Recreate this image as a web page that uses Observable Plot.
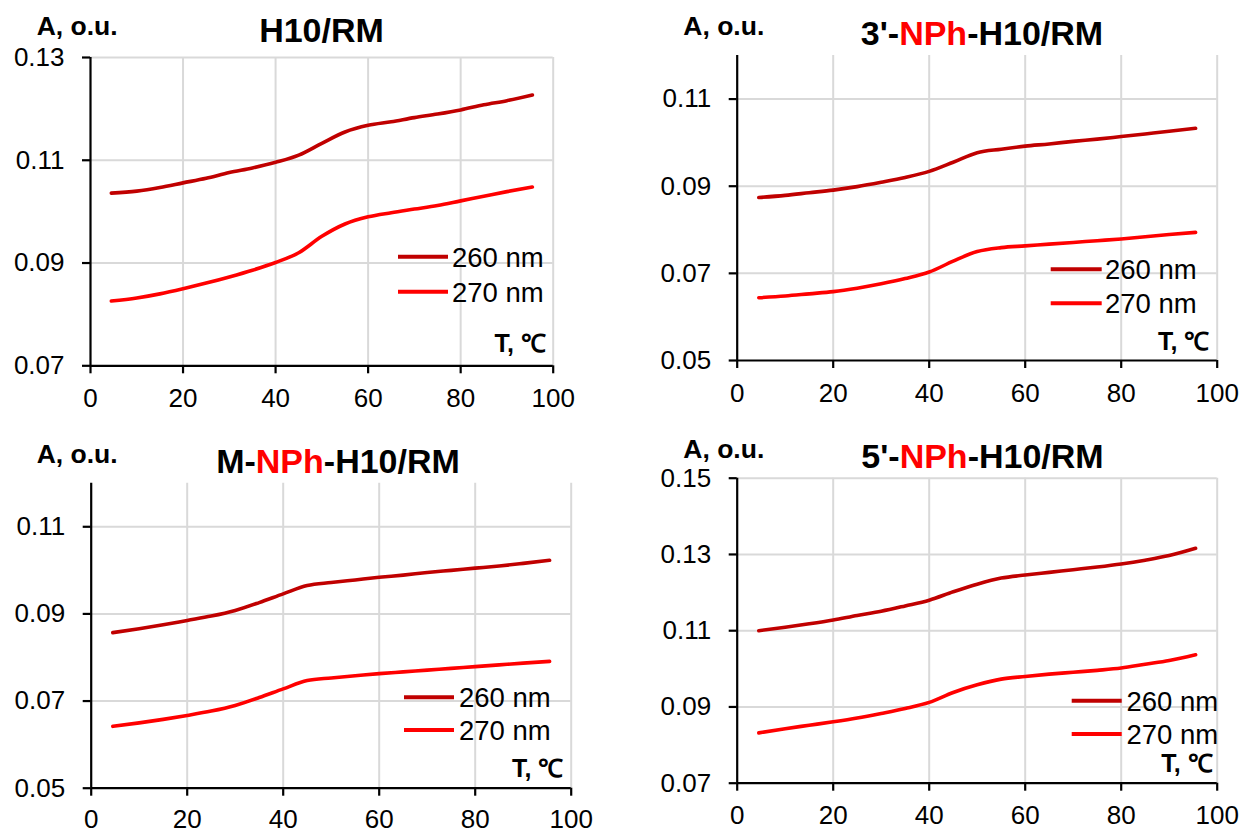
<!DOCTYPE html>
<html><head><meta charset="utf-8">
<script src="https://cdn.jsdelivr.net/npm/d3@7"></script>
<script src="https://cdn.jsdelivr.net/npm/@observablehq/plot@0.6"></script>
<style>
body{margin:0;background:#fff;font-family:"Liberation Sans",Arial,sans-serif}
#root{position:relative;width:1242px;height:834px;overflow:hidden;background:#fff}
.panel{position:absolute}
#overlay{position:absolute;left:0;top:0;pointer-events:none}
</style></head>
<body><div id="root"></div>
<script>
// ---- data ----
const seriesNames = ["260 nm", "270 nm"];
const colors = ["#C00000", "#FF0000"];
const titles = [["H10/RM"], ["3'-", "NPh", "-H10/RM"], ["M-", "NPh", "-H10/RM"], ["5'-", "NPh", "-H10/RM"]];
const xTicks = [0, 20, 40, 60, 80, 100];

const temps = [4.5, 10, 15, 20, 25, 30, 35, 40, 45, 50, 55, 60, 65, 70, 75, 80, 85, 90, 95.5];

const h10_260 = [0.1036,0.1040,0.1047,0.1056,0.1065,0.1076,0.1085,0.1096,0.1110,0.1133,0.1155,0.1168,0.1175,0.1183,0.1190,0.1198,0.1208,0.1216,0.1227];
const h10_270 = [0.0826,0.0832,0.0840,0.0850,0.0861,0.0873,0.0886,0.0901,0.0920,0.0952,0.0976,0.0990,0.0998,0.1005,0.1012,0.1021,0.1030,0.1039,0.1048];

const n3_260 = [0.0874,0.0879,0.0885,0.0891,0.0899,0.0909,0.0920,0.0934,0.0955,0.0977,0.0985,0.0992,0.0997,0.1003,0.1008,0.1014,0.1020,0.1026,0.1033];
const n3_270 = [0.0644,0.0648,0.0653,0.0658,0.0666,0.0676,0.0688,0.0703,0.0728,0.0750,0.0759,0.0763,0.0767,0.0771,0.0775,0.0779,0.0784,0.0789,0.0794];

const m_260 = [0.0857,0.0866,0.0875,0.0885,0.0895,0.0908,0.0926,0.0946,0.0965,0.0972,0.0978,0.0984,0.0989,0.0995,0.1000,0.1005,0.1010,0.1016,0.1023];
const m_270 = [0.0642,0.0650,0.0658,0.0667,0.0677,0.0690,0.0708,0.0728,0.0747,0.0753,0.0758,0.0763,0.0767,0.0771,0.0775,0.0779,0.0783,0.0787,0.0791];

const n5_260 = [0.1100,0.1109,0.1118,0.1128,0.1140,0.1151,0.1165,0.1180,0.1202,0.1222,0.1238,0.1246,0.1253,0.1260,0.1267,0.1275,0.1285,0.1297,0.1316];
const n5_270 = [0.0832,0.0843,0.0852,0.0861,0.0871,0.0883,0.0896,0.0912,0.0938,0.0958,0.0973,0.0980,0.0986,0.0991,0.0996,0.1002,0.1012,0.1022,0.1037];

const yTicks1 = [0.07, 0.09, 0.11, 0.13];
const yTicks2 = [0.05, 0.07, 0.09, 0.11];
const yTicks3 = [0.05, 0.07, 0.09, 0.11];
const yTicks4 = [0.07, 0.09, 0.11, 0.13, 0.15];
const yDomains = [[0.07, 0.13], [0.05, 0.12], [0.05, 0.12], [0.07, 0.15]];

// ---- layout ----
const panels = [
  {left:0,   top:0,   width:600, height:420, ml:90,   mr:47.3, mt:57,   mb:54.7, xpad:15, a:h10_260, b:h10_270, yt:yTicks1, yd:yDomains[0],
   title:{x:321.5, y:42}, ylab:{x:36.7, y:35}, tlab:{x:546, y:352}, leg:{x1:398, x2:448, y:[256.7,291.7], tx:452}},
  {left:640, top:0,   width:602, height:420, ml:96.7, mr:25.3, mt:55,   mb:60,   xpad:15, a:n3_260, b:n3_270, yt:yTicks2, yd:yDomains[1],
   title:{x:982, y:45}, ylab:{x:683.3, y:35}, tlab:{x:1209.5, y:350}, leg:{x1:1050.7, x2:1101.7, y:[269.3,303.3], tx:1105}},
  {left:0,   top:420, width:620, height:414, ml:90.7, mr:49.3, mt:62.7, mb:46.3, xpad:13, a:m_260, b:m_270, yt:yTicks3, yd:yDomains[2],
   title:{x:338, y:473}, ylab:{x:36.7, y:463}, tlab:{x:563.5, y:777}, leg:{x1:404, x2:454, y:[697.3,730], tx:459}},
  {left:640, top:420, width:602, height:414, ml:96.7, mr:25.3, mt:57.7, mb:51.3, xpad:14, a:n5_260, b:n5_270, yt:yTicks4, yd:yDomains[3],
   title:{x:982.5, y:468}, ylab:{x:683.3, y:458}, tlab:{x:1212.7, y:772}, leg:{x1:1071.7, x2:1121.7, y:[700.7,734], tx:1126.5}}
];

const root = document.getElementById("root");
const fmt = d3.format(".2f");

panels.forEach((p) => {
  const d260 = temps.map((t, i) => ({T: t, A: p.a[i]}));
  const d270 = temps.map((t, i) => ({T: t, A: p.b[i]}));
  const chart = Plot.plot({
    width: p.width, height: p.height,
    marginLeft: p.ml, marginRight: p.mr, marginTop: p.mt, marginBottom: p.mb,
    style: {fontFamily: "'Liberation Sans', Arial, sans-serif", fontSize: "26px", color: "#000", background: "transparent", overflow: "visible"},
    x: {domain: [0, 100], label: null},
    y: {domain: p.yd, label: null},
    marks: [
      Plot.gridX(xTicks.slice(1), {stroke: "#d9d9d9", strokeOpacity: 1, strokeWidth: 2}),
      Plot.gridY(p.yt.slice(1), {stroke: "#d9d9d9", strokeOpacity: 1, strokeWidth: 2}),
      Plot.line(d270, {x: "T", y: "A", stroke: colors[1], strokeWidth: 3.6, curve: "monotone-x"}),
      Plot.line(d260, {x: "T", y: "A", stroke: colors[0], strokeWidth: 3.6, curve: "monotone-x"}),
      Plot.ruleX([0], {stroke: "#000", strokeWidth: 2.2}),
      Plot.ruleY([p.yd[0]], {stroke: "#000", strokeWidth: 2.2}),
      Plot.axisX(xTicks, {tickSize: 8, tickPadding: p.xpad, strokeWidth: 2.2, stroke: "#000", fill: "#000", fontSize: 26}),
      Plot.axisY(p.yt, {tickSize: 8, tickPadding: 18, strokeWidth: 2.2, stroke: "#000", fill: "#000", fontSize: 26, tickFormat: fmt})
    ]
  });
  const div = document.createElement("div");
  div.className = "panel";
  div.style.left = p.left + "px";
  div.style.top = p.top + "px";
  div.appendChild(chart);
  root.appendChild(div);
});

// ---- overlay: titles, axis captions, legends ----
const NS = "http://www.w3.org/2000/svg";
const ov = document.createElementNS(NS, "svg");
ov.setAttribute("id", "overlay");
ov.setAttribute("width", 1242);
ov.setAttribute("height", 834);
ov.style.fontFamily = "'Liberation Sans', Arial, sans-serif";
function txt(x, y, s, opts) {
  const t = document.createElementNS(NS, "text");
  t.setAttribute("x", x); t.setAttribute("y", y);
  if (opts.anchor) t.setAttribute("text-anchor", opts.anchor);
  t.setAttribute("font-size", opts.size);
  if (opts.bold) t.setAttribute("font-weight", "bold");
  t.setAttribute("fill", "#000");
  if (Array.isArray(s)) {
    s.forEach((part) => {
      const ts = document.createElementNS(NS, "tspan");
      ts.textContent = part;
      if (part === "NPh") ts.setAttribute("fill", "#FF0000");
      t.appendChild(ts);
    });
  } else t.textContent = s;
  ov.appendChild(t);
  return t;
}
panels.forEach((p, i) => {
  txt(p.title.x, p.title.y, titles[i], {anchor: "middle", size: 34, bold: true});
  txt(p.ylab.x, p.ylab.y, "A, o.u.", {size: 26.5, bold: true});
  txt(p.tlab.x, p.tlab.y, "T, ℃", {anchor: "end", size: 25, bold: true});
  seriesNames.forEach((name, k) => {
    const l = document.createElementNS(NS, "line");
    l.setAttribute("x1", p.leg.x1); l.setAttribute("x2", p.leg.x2);
    l.setAttribute("y1", p.leg.y[k]); l.setAttribute("y2", p.leg.y[k]);
    l.setAttribute("stroke", colors[k]); l.setAttribute("stroke-width", 4);
    ov.appendChild(l);
    txt(p.leg.tx, p.leg.y[k] + 10, name, {size: 27.5});
  });
});
root.appendChild(ov);
</script>
</body></html>
